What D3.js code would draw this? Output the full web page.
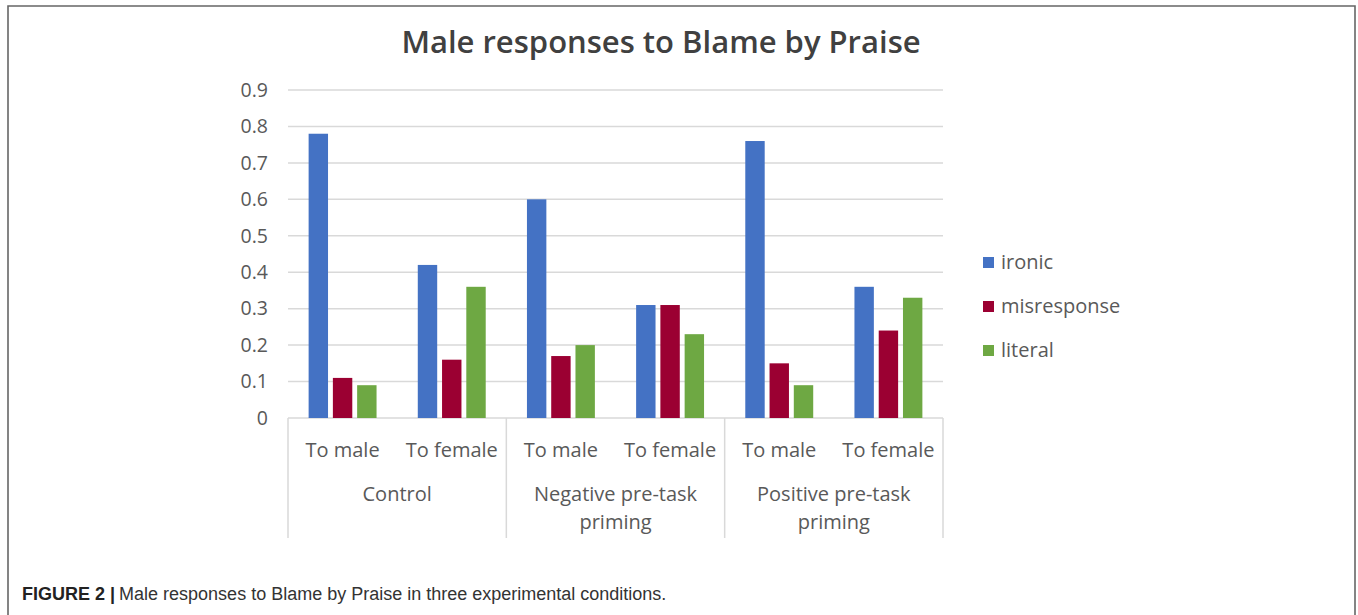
<!DOCTYPE html>
<html>
<head>
<meta charset="utf-8">
<script src="https://cdn.jsdelivr.net/npm/d3@7"></script>
<style>
  html, body { margin: 0; padding: 0; background: #fff; }
  svg { display: block; }
</style>
</head>
<body>
<svg id="chart" width="1358" height="615"></svg>
<script>
// Conditions, targets and response types
const groups = ["Control", "Negative pre-task priming", "Positive pre-task priming"];
const groupLines = [["Control"], ["Negative pre-task", "priming"], ["Positive pre-task", "priming"]];
const targets = ["To male", "To female"];
const series = ["ironic", "misresponse", "literal"];
const colors = ["#4472C4", "#9B0032", "#6EA843"];

// Proportions per series, in order: Control male/female, Negative male/female, Positive male/female
const ironic      = [0.78, 0.42, 0.60, 0.31, 0.76, 0.36];
const misresponse = [0.11, 0.16, 0.17, 0.31, 0.15, 0.24];
const literal     = [0.09, 0.36, 0.20, 0.23, 0.09, 0.33];

const yTicks = [0, 0.1, 0.2, 0.3, 0.4, 0.5, 0.6, 0.7, 0.8, 0.9];
const yTickLabels = ["0", "0.1", "0.2", "0.3", "0.4", "0.5", "0.6", "0.7", "0.8", "0.9"];

const title = "Male responses to Blame by Praise";
const captionBold = "FIGURE 2 |";
const captionText = "Male responses to Blame by Praise in three experimental conditions.";

const values = [ironic, misresponse, literal];
const cats = [];
groups.forEach((g, gi) => targets.forEach((t, ti) => cats.push({ g: gi, t, key: gi + "-" + ti })));
const rows = cats.map((c, i) => ({ ...c, vals: series.map((s, si) => ({ s, si, v: values[si][i] })) }));

const svg = d3.select("#chart");
const font = "Open Sans, sans-serif";
const textColor = "#595959";
const gridColor = "#D9D9D9";

// Frame around the figure
svg.append("path")
  .attr("d", "M8,620 L8,6 L1355,6 L1355,620")
  .attr("fill", "none").attr("stroke", "#666").attr("stroke-width", 1.6);

const plotLeft = 288, plotRight = 943, plotTop = 90, plotBottom = 418;

const x0 = d3.scaleBand().domain(cats.map(c => c.key)).range([plotLeft, plotRight]).padding(0);
const x1 = d3.scaleBand().domain(series).range([0, x0.bandwidth()]).paddingInner(0.2).paddingOuter(0.85);
const y = d3.scaleLinear().domain([0, 0.9]).range([plotBottom, plotTop]);

// Gridlines
svg.append("g").selectAll("line").data(yTicks.slice(1)).join("line")
  .attr("x1", plotLeft).attr("x2", plotRight)
  .attr("y1", d => y(d)).attr("y2", d => y(d))
  .attr("stroke", gridColor).attr("stroke-width", 1.5);

// Y axis labels
const yAxis = d3.axisLeft(y).tickValues(yTicks).tickFormat((d, i) => yTickLabels[i]).tickSize(0).tickPadding(20);
const gy = svg.append("g").attr("transform", `translate(${plotLeft},0)`).call(yAxis);
gy.select(".domain").remove();
gy.selectAll("text").attr("font-family", font).attr("font-size", 19.5).attr("fill", textColor);

// Category axis box: baseline and group separators
const gx = svg.append("g").attr("stroke", gridColor).attr("stroke-width", 1.5);
gx.append("line").attr("x1", plotLeft).attr("x2", plotRight).attr("y1", plotBottom).attr("y2", plotBottom);
const sepXs = [0, 2, 4].map(i => x0(cats[i].key)).concat([plotRight]);
gx.selectAll("line.sep").data(sepXs).join("line").attr("class", "sep")
  .attr("x1", d => d).attr("x2", d => d).attr("y1", plotBottom).attr("y2", 538);

// Bars
svg.append("g").selectAll("g").data(rows).join("g")
  .attr("transform", d => `translate(${x0(d.key)},0)`)
  .selectAll("rect").data(d => d.vals).join("rect")
  .attr("x", d => x1(d.s)).attr("width", x1.bandwidth())
  .attr("y", d => y(d.v)).attr("height", d => y(0) - y(d.v))
  .attr("fill", d => colors[d.si]);

// Target labels
svg.append("g").selectAll("text").data(cats).join("text")
  .attr("x", d => x0(d.key) + x0.bandwidth() / 2).attr("y", 457)
  .attr("text-anchor", "middle").attr("font-family", font).attr("font-size", 20).attr("fill", textColor)
  .text(d => d.t);

// Condition labels
groupLines.forEach((lines, gi) => {
  const cx = (x0(cats[gi * 2].key) + x0(cats[gi * 2 + 1].key) + x0.bandwidth()) / 2;
  lines.forEach((ln, li) => {
    svg.append("text").attr("x", cx).attr("y", 501 + li * 28)
      .attr("text-anchor", "middle").attr("font-family", font).attr("font-size", 20).attr("fill", textColor)
      .text(ln);
  });
});

// Title
svg.append("text").attr("x", 661).attr("y", 53).attr("text-anchor", "middle")
  .attr("font-family", font).attr("font-size", 31).attr("font-weight", 600).attr("fill", "#404040")
  .text(title);

// Legend
const lg = svg.append("g").selectAll("g").data(series).join("g")
  .attr("transform", (d, i) => `translate(983,${257 + i * 44})`);
lg.append("rect").attr("width", 11).attr("height", 11).attr("fill", (d, i) => colors[i]);
lg.append("text").attr("x", 18).attr("y", 12).attr("font-family", font).attr("font-size", 20)
  .attr("fill", textColor).text(d => d);

// Caption
const cap = svg.append("text").attr("x", 22).attr("y", 600).attr("font-family", "Liberation Sans, Arial, sans-serif")
  .attr("font-size", 18).attr("fill", "#222");
cap.append("tspan").attr("font-weight", "bold").text(captionBold);
cap.append("tspan").attr("dx", 4).attr("fill", "#333").text(captionText);
</script>
</body>
</html>
